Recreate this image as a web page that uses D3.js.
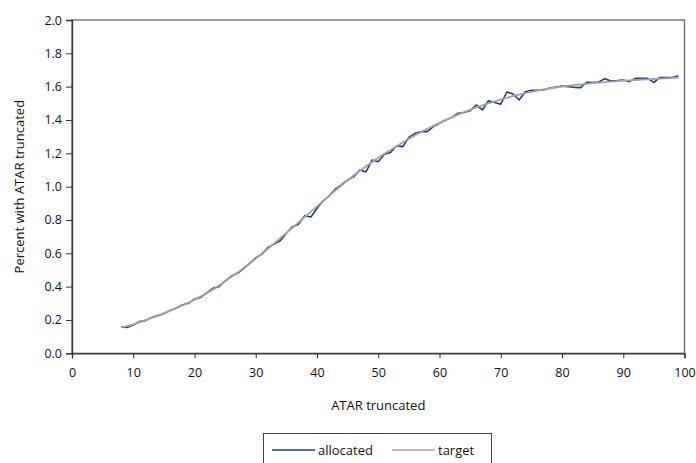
<!DOCTYPE html>
<html><head><meta charset="utf-8">
<script src="https://cdn.jsdelivr.net/npm/d3@7"></script>
<style>
body{margin:0;background:#fff;}
text{font-family:"Open Sans","Liberation Sans",sans-serif;fill:#111;}
</style></head>
<body><svg id="c" width="696" height="463"></svg>
<script>
const xs = d3.range(8, 100);
const target = [0.155,0.163,0.174,0.186,0.199,0.213,0.227,0.241,0.256,0.271,0.287,0.304,0.322,0.341,0.361,0.383,0.407,0.432,0.458,0.484,0.511,0.539,0.568,0.598,0.628,0.659,0.690,0.722,0.754,0.786,0.818,0.850,0.882,0.914,0.946,0.977,1.008,1.038,1.067,1.095,1.122,1.148,1.173,1.197,1.220,1.243,1.265,1.287,1.308,1.328,1.347,1.365,1.383,1.400,1.416,1.432,1.447,1.461,1.475,1.488,1.500,1.512,1.523,1.533,1.543,1.552,1.561,1.569,1.576,1.583,1.589,1.595,1.600,1.605,1.609,1.613,1.617,1.621,1.624,1.627,1.630,1.633,1.636,1.638,1.640,1.642,1.644,1.646,1.648,1.650,1.652,1.654];
const allocated = [0.158,0.155,0.170,0.190,0.196,0.215,0.226,0.238,0.257,0.270,0.290,0.300,0.325,0.335,0.362,0.390,0.400,0.435,0.462,0.480,0.508,0.540,0.572,0.595,0.635,0.655,0.675,0.720,0.760,0.775,0.825,0.818,0.870,0.915,0.945,0.985,1.010,1.040,1.060,1.100,1.088,1.160,1.150,1.195,1.205,1.245,1.240,1.295,1.320,1.330,1.330,1.360,1.380,1.400,1.415,1.440,1.445,1.455,1.490,1.460,1.516,1.505,1.495,1.568,1.556,1.520,1.570,1.578,1.578,1.580,1.592,1.598,1.604,1.600,1.596,1.594,1.626,1.624,1.628,1.648,1.634,1.636,1.640,1.630,1.650,1.650,1.650,1.626,1.655,1.655,1.655,1.665];
const xTicks = [0,10,20,30,40,50,60,70,80,90,100];
const yTicks = [0,0.2,0.4,0.6,0.8,1.0,1.2,1.4,1.6,1.8,2.0];
const seriesNames = ["allocated","target"];
const seriesColors = ["#173f86","#a3a3a3"];

const svg = d3.select("#c");
const L=72, R=684.5, T=20, B=353.3;
const x = d3.scaleLinear().domain([0,100]).range([L,R]);
const y = d3.scaleLinear().domain([0,2]).range([B,T]);

svg.append("rect").attr("x",L).attr("y",T).attr("width",R-L).attr("height",B-T)
  .attr("fill","none").attr("stroke","#666").attr("stroke-width",1.3);

const xa = svg.append("g").attr("transform",`translate(0,${B})`)
  .call(d3.axisBottom(x).tickValues(xTicks).tickSize(5).tickPadding(10).tickFormat(d3.format("d")));
const ya = svg.append("g").attr("transform",`translate(${L},0)`)
  .call(d3.axisLeft(y).tickValues(yTicks).tickSize(6).tickPadding(4).tickFormat(d3.format(".1f")));
[xa,ya].forEach(g=>{
  g.select(".domain").attr("stroke","#333").attr("stroke-width",1.3);
  g.selectAll(".tick line").attr("stroke","#333").attr("stroke-width",1);
  g.selectAll(".tick text").attr("font-size",12.5).attr("fill","#111")
   .attr("font-family","'Open Sans','Liberation Sans',sans-serif");
});

const line = vals => d3.line().x((d,i)=>x(xs[i])).y(d=>y(d))(vals);
svg.append("path").attr("d",line(allocated)).attr("fill","none")
  .attr("stroke",seriesColors[0]).attr("stroke-width",1.6).attr("stroke-linejoin","round");
svg.append("path").attr("d",line(target)).attr("fill","none")
  .attr("stroke",seriesColors[1]).attr("stroke-width",1.8).attr("stroke-linejoin","round");

svg.append("text").attr("x",(L+R)/2).attr("y",410).attr("text-anchor","middle")
  .attr("font-size",13).text("ATAR truncated");
svg.append("text").attr("transform",`translate(24,${(T+B)/2}) rotate(-90)`)
  .attr("text-anchor","middle").attr("font-size",13).text("Percent with ATAR truncated");

const lg = svg.append("g");
lg.append("rect").attr("x",263.5).attr("y",433.5).attr("width",228).attr("height",40)
  .attr("fill","#fff").attr("stroke","#444").attr("stroke-width",1);
const lx = [272, 392];
seriesNames.forEach((n,i)=>{
  lg.append("line").attr("x1",lx[i]).attr("x2",lx[i]+43).attr("y1",450).attr("y2",450)
    .attr("stroke",seriesColors[i]).attr("stroke-width",1.6);
  lg.append("text").attr("x",lx[i]+46).attr("y",455).attr("font-size",13).text(n);
});
</script></body></html>
